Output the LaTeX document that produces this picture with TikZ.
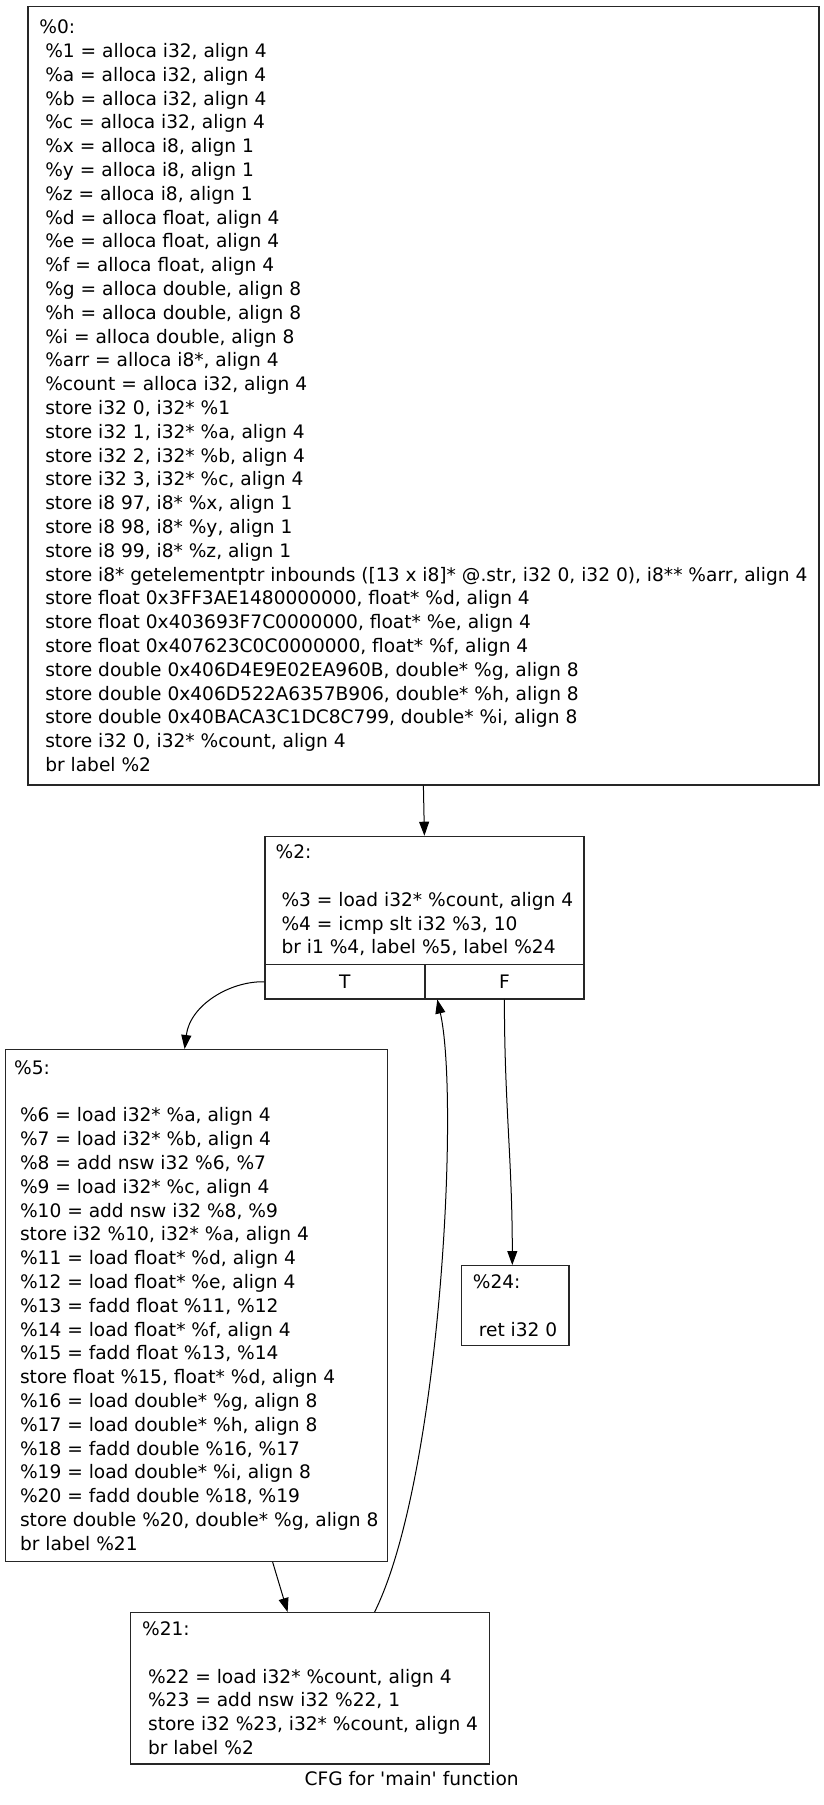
\documentclass[tikz,border=0pt]{standalone}
\usepackage{fontspec}
\newfontfamily\cfgfont{DejaVu Sans}
\usetikzlibrary{arrows.meta}
\newcommand{\ind}{\hspace*{0.318em}}

\tikzset{
  block/.style={draw=black!85, line width=0.6pt, anchor=north west, align=left, inner sep=0pt},
  port/.style={draw=black!85, line width=0.6pt, anchor=north west, inner sep=0pt, minimum height=17.15pt},
  flow/.style={-{Triangle[length=7pt,width=5pt]}, line width=0.5pt},
}

\begin{document}
\begin{tikzpicture}[x=0.5pt, y=-0.5pt, font=\cfgfont\fontsize{9.3pt}{11.9pt}\selectfont]
    \useasboundingbox (0,0) rectangle (824,1805);
    %% entry block
    \node[block, minimum width=395.5pt, minimum height=389.15pt] (b0) at (27.3,6) {%
        \%0:\\
        \ind\%1 = alloca i32, align 4\\
        \ind\%a = alloca i32, align 4\\
        \ind\%b = alloca i32, align 4\\
        \ind\%c = alloca i32, align 4\\
        \ind\%x = alloca i8, align 1\\
        \ind\%y = alloca i8, align 1\\
        \ind\%z = alloca i8, align 1\\
        \ind\%d = alloca float, align 4\\
        \ind\%e = alloca float, align 4\\
        \ind\%f = alloca float, align 4\\
        \ind\%g = alloca double, align 8\\
        \ind\%h = alloca double, align 8\\
        \ind\%i = alloca double, align 8\\
        \ind\%arr = alloca i8*, align 4\\
        \ind\%count = alloca i32, align 4\\
        \ind store i32 0, i32* \%1\\
        \ind store i32 1, i32* \%a, align 4\\
        \ind store i32 2, i32* \%b, align 4\\
        \ind store i32 3, i32* \%c, align 4\\
        \ind store i8 97, i8* \%x, align 1\\
        \ind store i8 98, i8* \%y, align 1\\
        \ind store i8 99, i8* \%z, align 1\\
        \ind store i8* getelementptr inbounds ([13 x i8]* @.str, i32 0, i32 0), i8** \%arr, align 4\\
        \ind store float 0x3FF3AE1480000000, float* \%d, align 4\\
        \ind store float 0x403693F7C0000000, float* \%e, align 4\\
        \ind store float 0x407623C0C0000000, float* \%f, align 4\\
        \ind store double 0x406D4E9E02EA960B, double* \%g, align 8\\
        \ind store double 0x406D522A6357B906, double* \%h, align 8\\
        \ind store double 0x40BACA3C1DC8C799, double* \%i, align 8\\
        \ind store i32 0, i32* \%count, align 4\\
        \ind br label \%2};
    %% loop header with its two ports
    \node[block, minimum width=159.5pt, minimum height=64.15pt] (b2) at (264.3,835.7) {%
        \%2:\\
        \mbox{}\\
        \ind\%3 = load i32* \%count, align 4\\
        \ind\%4 = icmp slt i32 \%3, 10\\
        \ind br i1 \%4, label \%5, label \%24};
    \node[port, minimum width=80pt] (T) at (264.3,964) {T};
    \node[port, minimum width=79.5pt] (F) at (424.3,964) {F};
    %% loop body
    \node[block, minimum width=191pt, minimum height=255.85pt] (b5) at (4.7,1049) {%
        \%5:\\
        \mbox{}\\
        \ind\%6 = load i32* \%a, align 4\\
        \ind\%7 = load i32* \%b, align 4\\
        \ind\%8 = add nsw i32 \%6, \%7\\
        \ind\%9 = load i32* \%c, align 4\\
        \ind\%10 = add nsw i32 \%8, \%9\\
        \ind store i32 \%10, i32* \%a, align 4\\
        \ind\%11 = load float* \%d, align 4\\
        \ind\%12 = load float* \%e, align 4\\
        \ind\%13 = fadd float \%11, \%12\\
        \ind\%14 = load float* \%f, align 4\\
        \ind\%15 = fadd float \%13, \%14\\
        \ind store float \%15, float* \%d, align 4\\
        \ind\%16 = load double* \%g, align 8\\
        \ind\%17 = load double* \%h, align 8\\
        \ind\%18 = fadd double \%16, \%17\\
        \ind\%19 = load double* \%i, align 8\\
        \ind\%20 = fadd double \%18, \%19\\
        \ind store double \%20, double* \%g, align 8\\
        \ind br label \%21};
    %% exit
    \node[block, minimum width=53.8pt, minimum height=40pt] (b24) at (460.7,1265) {%
        \%24:\\
        \mbox{}\\
        \ind ret i32 0};
    %% latch
    \node[block, minimum width=179.5pt, minimum height=75.65pt] (b21) at (130,1612) {%
        \%21:\\
        \mbox{}\\
        \ind\%22 = load i32* \%count, align 4\\
        \ind\%23 = add nsw i32 \%22, 1\\
        \ind store i32 \%23, i32* \%count, align 4\\
        \ind br label \%2};
    \node[anchor=base] (title) at (411.7,1785.7) {CFG for 'main' function};
    %% edges
    \draw[flow] (b0.south) -- (b2.north);
    \draw[flow] (T.west) .. controls (230,981) and (190,1005) .. ([xshift=-5.85pt]b5.north);
    \draw[flow] (F.south) to[out=-90, in=90] ([xshift=-1.4pt]b24.north);
    \draw[flow] ([xshift=38.15pt]b5.south) -- ([xshift=-11.25pt]b21.north);
    % back edge of the loop
    \draw[flow] ([xshift=32.25pt]b21.north) .. controls (440,1480) and (460,1100) .. ([xshift=-33.55pt]F.south);
\end{tikzpicture}
\end{document}
